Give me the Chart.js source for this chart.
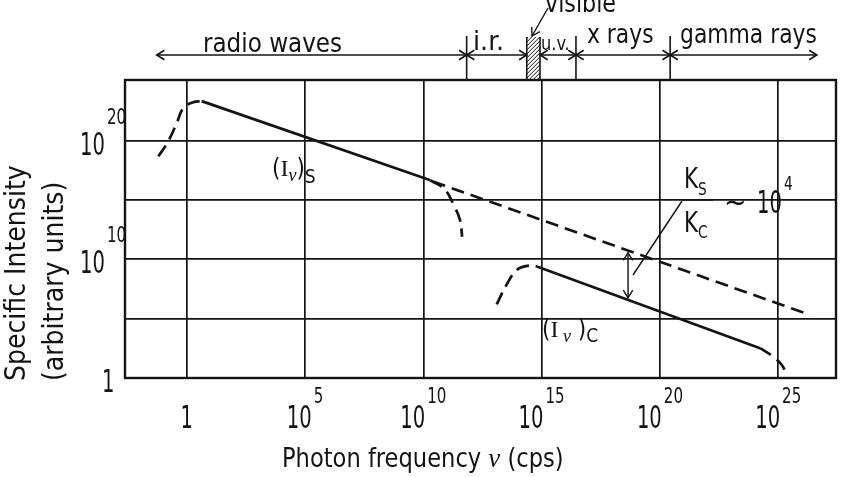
<!DOCTYPE html>
<html>
<head>
<meta charset="utf-8">
<script src="https://cdn.jsdelivr.net/npm/chart.js@4.4.1/dist/chart.umd.min.js"></script>
<style>
  html, body { margin: 0; padding: 0; background: #fff; }
  canvas { display: block; }
</style>
</head>
<body>
<canvas id="chart" width="842" height="477"></canvas>
<script>
// values are log10(frequency in cps) and log10(intensity)
const synRiseF = [-1.2, -0.78, -0.42, -0.14, 0.28, 0.63];
const synRiseI = [18.67, 19.94, 21.49, 22.76, 23.23, 23.32];
const synPowF = [0.63, 10.3];
const synPowI = [23.32, 16.65];
const synCutF = [10.3, 10.9, 11.3, 11.55, 11.64];
const synCutI = [16.65, 15.9, 14.5, 13.3, 11.9];
const synExtF = [10.4, 26.34];
const synExtI = [16.55, 5.32];
const comRiseF = [13.1, 13.5, 13.95, 14.4, 14.8];
const comRiseI = [6.2, 7.8, 9.1, 9.45, 9.4];
const comPowF = [14.8, 24.23];
const comPowI = [9.4, 2.51];
const comCutF = [24.23, 24.78, 25.15, 25.36];
const comCutI = [2.51, 1.8, 1.1, 0.25];

const xTickExp = [0, 5, 10, 15, 20, 25];
const xGridExp = [0, 5, 10, 15, 20, 25];
const yTickExp = [0, 10, 20];
const yGridExp = [0, 5, 10, 15, 20];
const xRangeExp = [-2.61, 27.44];
const yRangeExp = [0, 25.1];

// spectrum bands along the top (log10 frequency of the boundaries)
const bandNames = ['radio waves', 'i.r.', 'visible', 'u.v.', 'x rays', 'gamma rays'];
const bandEdges = [-1.27, 11.83, 14.37, 14.93, 16.45, 20.43, 26.63];

// Ks/Kc marker: frequency and the two intensities it spans
const ratioF = 18.65;
const ratioI = [10.55, 6.75];

const INK = '#141414';
const WORD = '"DejaVu Sans Condensed", "DejaVu Sans", sans-serif';
const SERIF = '"Liberation Serif", "DejaVu Serif", serif';
const NUM_SX = 0.68;   // lettering digits are very narrow
const SUP_SX = 0.8;

const pts = (fs, is) => fs.map((f, k) => ({ x: Math.pow(10, f), y: Math.pow(10, is[k]) }));

function curve(data, dashed, tension) {
    return {
        data: data,
        showLine: true,
        borderColor: INK,
        borderWidth: 2.7,
        borderDash: dashed ? [13, 7] : [],
        pointRadius: 0,
        tension: tension || 0,
        fill: false
    };
}

function arrowHead(ctx, x, y, ang) {
    const len = 9, spread = 0.55;
    ctx.beginPath();
    ctx.moveTo(x - len * Math.cos(ang - spread), y - len * Math.sin(ang - spread));
    ctx.lineTo(x, y);
    ctx.lineTo(x - len * Math.cos(ang + spread), y - len * Math.sin(ang + spread));
    ctx.stroke();
}

// parts: [text, font, dy, horizontal squeeze]
function runs(ctx, x, y, parts) {
    ctx.textAlign = 'left';
    for (const [t, f, dy, sx] of parts) {
        const s = sx || 1;
        ctx.font = f;
        ctx.save();
        ctx.translate(x, y + (dy || 0));
        ctx.scale(s, 1);
        ctx.fillText(t, 0, 0);
        ctx.restore();
        x += ctx.measureText(t).width * s;
    }
    return x;
}

function textWidth(ctx, t, f, sx) {
    ctx.font = f;
    return ctx.measureText(t).width * (sx || 1);
}

function powParts(e) {
    return [['10', '32px ' + WORD, 0, NUM_SX], [String(e), '21px ' + WORD, -25, SUP_SX]];
}

const decor = {
    id: 'decor',
    afterDraw(chart) {
        const { ctx, chartArea: a, scales: { x, y } } = chart;
        const px = f => x.getPixelForValue(Math.pow(10, f));
        const py = i => y.getPixelForValue(Math.pow(10, i));
        ctx.save();
        ctx.strokeStyle = INK;
        ctx.fillStyle = INK;

        // frame
        ctx.lineWidth = 2.4;
        ctx.strokeRect(a.left, a.top, a.right - a.left, a.bottom - a.top);

        // x tick labels
        xTickExp.forEach(e => {
            const cx = px(e);
            if (e === 0) {
                const w = textWidth(ctx, '1', '32px ' + WORD, NUM_SX);
                runs(ctx, cx - w / 2, 428, [['1', '32px ' + WORD, 0, NUM_SX]]);
                return;
            }
            const parts = powParts(e);
            const w = parts.reduce((s, p) => s + textWidth(ctx, p[0], p[1], p[3]), 0) + 2;
            const end = runs(ctx, cx - w / 2, 428, [parts[0]]);
            runs(ctx, end + 2, 428, [parts[1]]);
        });
        // y tick labels
        yTickExp.forEach(e => {
            const gy = py(e);
            if (e === 0) {
                runs(ctx, 102, gy + 14, [['1', '32px ' + WORD, 0, NUM_SX]]);
                return;
            }
            const end = runs(ctx, 80, gy + 14, [['10', '32px ' + WORD, 0, NUM_SX]]);
            runs(ctx, end + 2, gy + 14, [[String(e), '21px ' + WORD, -31, SUP_SX]]);
        });

        // axis titles
        runs(ctx, 282, 467, [['Photon frequency ', '27px ' + WORD, 0, 0.93], ['ν', 'italic 27px ' + SERIF], [' (cps)', '27px ' + WORD, 0, 0.93]]);
        ctx.save();
        ctx.translate(25, 381);
        ctx.rotate(-Math.PI / 2);
        runs(ctx, 0, 0, [['Specific Intensity', '28px ' + WORD]]);
        runs(ctx, 0, 38, [['(arbitrary units)', '28px ' + WORD]]);
        ctx.restore();

        // spectrum band ruler
        const bx = bandEdges.map(px);
        const ly = 55;
        ctx.lineWidth = 1.6;
        [[0, 1], [1, 2], [3, 4], [4, 5], [5, 6]].forEach(([i, j]) => {
            ctx.beginPath();
            ctx.moveTo(bx[i], ly);
            ctx.lineTo(bx[j], ly);
            ctx.stroke();
            arrowHead(ctx, bx[i], ly, Math.PI);
            arrowHead(ctx, bx[j], ly, 0);
        });
        [1, 4, 5].forEach(i => {
            ctx.beginPath();
            ctx.moveTo(bx[i], 36);
            ctx.lineTo(bx[i], a.top);
            ctx.stroke();
        });
        // hatched visible band
        ctx.beginPath();
        ctx.moveTo(bx[2], 37); ctx.lineTo(bx[2], a.top);
        ctx.moveTo(bx[3], 37); ctx.lineTo(bx[3], a.top);
        ctx.stroke();
        ctx.save();
        ctx.beginPath();
        ctx.rect(bx[2], 37, bx[3] - bx[2], a.top - 37);
        ctx.clip();
        ctx.lineWidth = 1;
        ctx.beginPath();
        for (let k = -20; k < 60; k += 4) {
            ctx.moveTo(bx[2] - 2, a.top - k);
            ctx.lineTo(bx[3] + 2, a.top - k - (bx[3] - bx[2]) - 4);
        }
        ctx.stroke();
        ctx.restore();
        // visible leader
        ctx.lineWidth = 1.4;
        ctx.beginPath();
        ctx.moveTo(548, 8);
        ctx.lineTo(532, 36);
        ctx.stroke();
        arrowHead(ctx, 532, 36, Math.atan2(28, -16));

        runs(ctx, 203, 52, [[bandNames[0], '27px ' + WORD, 0, 0.95]]);
        runs(ctx, 473, 50, [[bandNames[1], '27px ' + WORD, 0, 1.05]]);
        runs(ctx, 545, 12, [[bandNames[2], '26px ' + WORD, 0, 0.95]]);
        runs(ctx, 541, 50, [[bandNames[3], '20px ' + WORD, 0, 0.9]]);
        runs(ctx, 587, 43, [[bandNames[4], '27px ' + WORD, 0, 0.9]]);
        runs(ctx, 680, 43, [[bandNames[5], '27px ' + WORD, 0, 0.9]]);

        // Ks/Kc marker
        const ax = px(ratioF), ay1 = py(ratioI[0]), ay2 = py(ratioI[1]);
        ctx.lineWidth = 1.4;
        ctx.beginPath();
        ctx.moveTo(ax, ay1); ctx.lineTo(ax, ay2);
        ctx.moveTo(682, 201); ctx.lineTo(633, 275);
        ctx.moveTo(682, 200); ctx.lineTo(713, 200);
        ctx.stroke();
        arrowHead(ctx, ax, ay1, -Math.PI / 2);
        arrowHead(ctx, ax, ay2, Math.PI / 2);
        runs(ctx, 684, 188, [['K', '28px ' + WORD, 0, 0.85], ['S', '18px ' + WORD, 7, 0.85]]);
        runs(ctx, 684, 232, [['K', '28px ' + WORD, 0, 0.85], ['C', '18px ' + WORD, 6, 0.85]]);
        runs(ctx, 724, 212, [['~', '30px ' + WORD]]);
        const e4 = runs(ctx, 757, 213, [['10', '32px ' + WORD, 0, NUM_SX]]);
        runs(ctx, e4 + 2, 190, [['4', '19px ' + WORD, 0, SUP_SX]]);

        // curve labels
        runs(ctx, 272, 176, [['(', '24px ' + WORD], ['I', '24px ' + SERIF], ['ν', 'italic 18px ' + SERIF, 5], [')', '24px ' + WORD], ['S', '19px ' + WORD, 7]]);
        runs(ctx, 542, 337, [['(', '24px ' + WORD], ['I', '24px ' + SERIF], [' ν', 'italic 18px ' + SERIF, 5], [' )', '24px ' + WORD], ['C', '19px ' + WORD, 5]]);

        ctx.restore();
    }
};

const gridOpts = { color: INK, lineWidth: 1.7, drawTicks: false };

new Chart(document.getElementById('chart'), {
    type: 'scatter',
    data: {
        datasets: [
            curve(pts(synRiseF, synRiseI), true, 0.4),
            curve(pts(synPowF, synPowI), false),
            curve(pts(synCutF, synCutI), true, 0.4),
            curve(pts(synExtF, synExtI), true),
            curve(pts(comRiseF, comRiseI), true, 0.4),
            curve(pts(comPowF, comPowI), false),
            curve(pts(comCutF, comCutI), true, 0.4)
        ]
    },
    options: {
        responsive: false,
        animation: false,
        layout: { padding: { left: 125, top: 80, right: 6, bottom: 99 } },
        plugins: { legend: { display: false }, tooltip: { enabled: false } },
        scales: {
            x: {
                type: 'logarithmic',
                min: Math.pow(10, xRangeExp[0]),
                max: Math.pow(10, xRangeExp[1]),
                grid: gridOpts,
                border: { display: false },
                ticks: { display: false },
                afterBuildTicks: s => { s.ticks = xGridExp.map(e => ({ value: Math.pow(10, e) })); },
                afterFit: s => { s.height = 0; }
            },
            y: {
                type: 'logarithmic',
                min: Math.pow(10, yRangeExp[0]),
                max: Math.pow(10, yRangeExp[1]),
                grid: gridOpts,
                border: { display: false },
                ticks: { display: false },
                afterBuildTicks: s => { s.ticks = yGridExp.map(e => ({ value: Math.pow(10, e) })); },
                afterFit: s => { s.width = 0; }
            }
        }
    },
    plugins: [decor]
});
</script>
</body>
</html>
